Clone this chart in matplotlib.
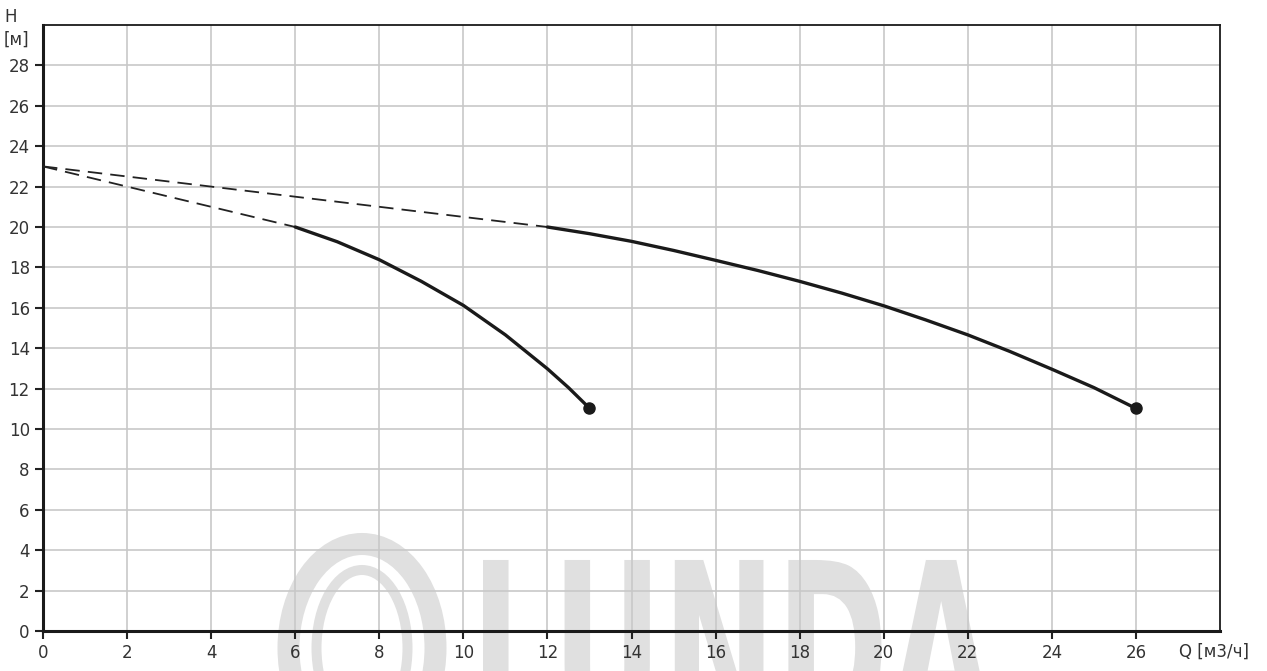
import matplotlib.pyplot as plt
from matplotlib.font_manager import FontProperties
from matplotlib.patches import Ellipse, PathPatch
from matplotlib.textpath import TextPath
from matplotlib.transforms import Affine2D, IdentityTransform

# pump curves: Q [m3/h], H [m]
q_small = [6, 7, 8, 9, 10, 11, 12, 12.5, 13]
h_small = [20, 19.27, 18.38, 17.31, 16.12, 14.66, 12.98, 12.05, 11.03]
q_big = [12, 13, 14, 15, 16, 17, 18, 19, 20, 21, 22, 23, 24, 25, 26]
h_big = [20, 19.67, 19.29, 18.84, 18.35, 17.85, 17.31, 16.73, 16.1,
         15.4, 14.66, 13.84, 12.96, 12.05, 11.02]
h_shutoff = 23
q_ticks = list(range(0, 27, 2))
h_ticks = list(range(0, 29, 2))

W, H = 1267, 671
fig = plt.figure(figsize=(W / 100, H / 100), dpi=100)
ax = fig.add_axes([43 / W, 40 / H, 1177 / W, 606 / H])
ax.set_facecolor("none")
ax.set_xlim(0, 28)
ax.set_ylim(0, 30)

# watermark (pixel coordinates, drawn behind the axes)
wm = "#e0e0e0"
tp = TextPath((0, 0), "LUNDA", size=100,
              prop=FontProperties(family="DejaVu Sans", weight="bold"))
ext = tp.get_extents()
sx = (993 - 483) / ext.width
sy = 175 / 72.9
tr = Affine2D().translate(-ext.x0, 0).scale(sx, sy).translate(483, (H - 560) - 175)
fig.patches.append(PathPatch(tr.transform_path(tp), fc=wm, ec="none",
                             transform=IdentityTransform(), zorder=-1))
for cw, ch, lw in [(147, 208, 22), (91, 156, 10)]:
    fig.patches.append(Ellipse((362, H - 648), cw, ch, fill=False, ec=wm,
                               lw=lw * 0.72, transform=IdentityTransform(),
                               zorder=-1))

ax.grid(True, color="#c8c8c8", lw=1.2, zorder=1)
ax.set_xticks(q_ticks)
ax.set_yticks(h_ticks)
ax.tick_params(labelsize=12, labelcolor="#333333", length=6, width=1.5,
               direction="out", color="#222222")

for q, h in [(q_small, h_small), (q_big, h_big)]:
    ax.plot([0, q[0]], [h_shutoff, h[0]], color="#222222", lw=1.3,
            ls=(0, (8, 4.5)), zorder=3)
    ax.plot(q, h, color="#1a1a1a", lw=2.4, zorder=3,
            solid_joinstyle="round", solid_capstyle="round")
    ax.plot(q[-1], h[-1], "o", color="#1a1a1a", ms=8, zorder=4)

for side in ["left", "bottom"]:
    ax.spines[side].set_linewidth(2.2)
    ax.spines[side].set_color("#1a1a1a")
for side in ["top", "right"]:
    ax.spines[side].set_linewidth(1.3)
    ax.spines[side].set_color("#1a1a1a")

fig.text(11 / W, 1 - 17 / H, "H", fontsize=12, color="#333333",
         ha="center", va="center")
fig.text(16 / W, 1 - 40 / H, "[м]", fontsize=12, color="#333333",
         ha="center", va="center")
fig.text(1214 / W, 1 - 652 / H, "Q [м3/ч]", fontsize=12,
         color="#333333", ha="center", va="center")

fig.savefig("out.png", dpi=100)
